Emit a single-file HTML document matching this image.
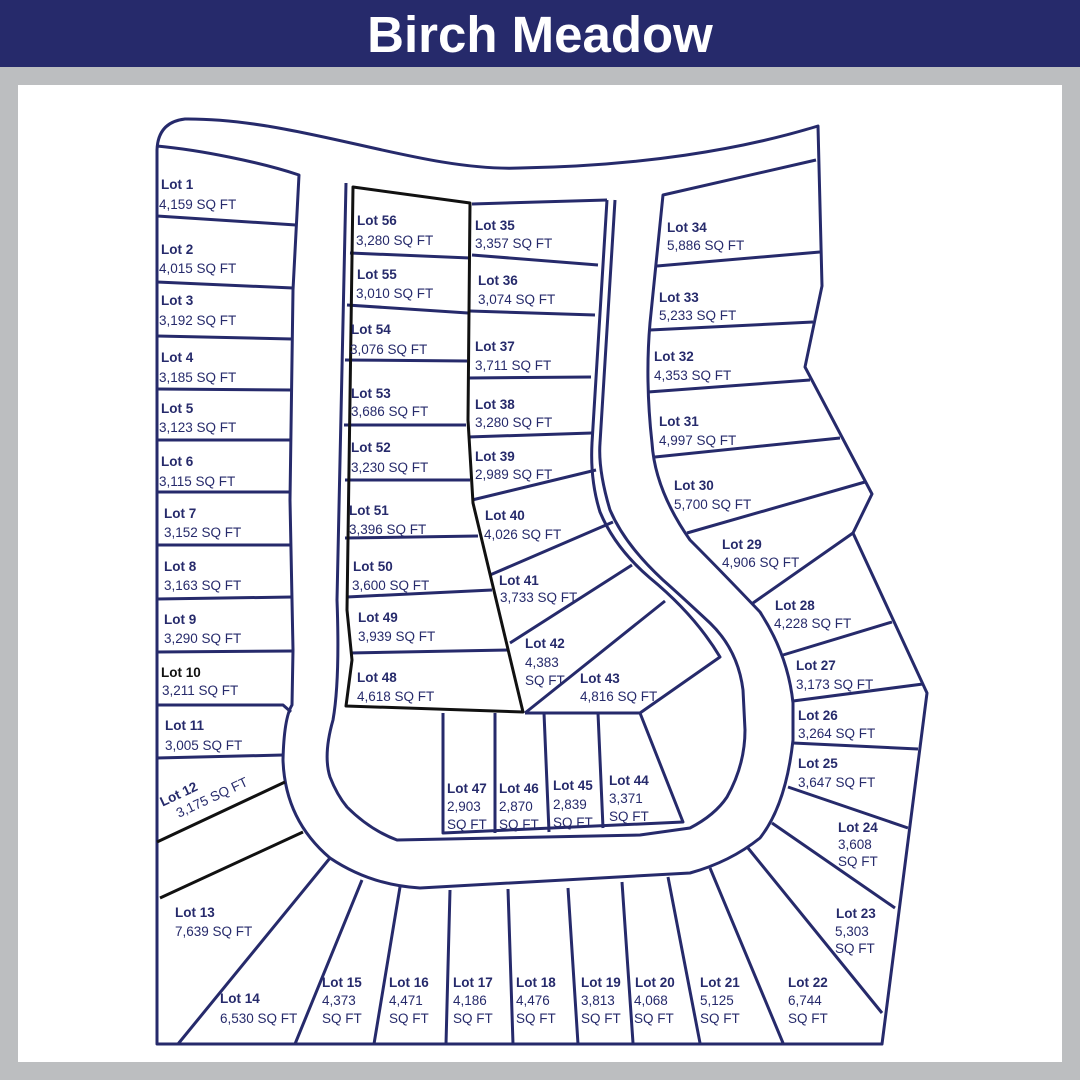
<!DOCTYPE html>
<html><head><meta charset="utf-8"><style>
html,body{margin:0;padding:0;width:1080px;height:1080px;overflow:hidden;background:#bcbec0}
svg{display:block}
text{font-family:"Liberation Sans",sans-serif;font-size:13.5px;fill:#262a6b}
.b{font-weight:bold}
</style></head><body>
<svg width="1080" height="1080" viewBox="0 0 1080 1080" xmlns="http://www.w3.org/2000/svg">
<rect x="0" y="0" width="1080" height="67" fill="#262a6b"/>
<text x="540" y="52" text-anchor="middle" style="font-size:51px;font-weight:bold;fill:#fff">Birch Meadow</text>
<rect x="18" y="85" width="1044" height="977" fill="#fff"/>
<g fill="none" stroke="#262a6b" stroke-width="3" stroke-linejoin="round">
<path d="M157,1044 L157,150 Q158,122 185,119 C300,118 420,172 520,168 C640,166 740,150 818,126 L822,286 L805,367 L872,494 L853,533 L927,693 L882,1044 Z"/>
<path d="M157,146 C200,150 260,162 299,175 L293,290 L290,500 L293,650 L292,705 Q284,718 283,760 Q285,820 330,858 Q370,885 420,888 L690,873 Q730,862 760,838 Q786,805 793,740 L793,703 Q788,655 760,612 Q720,570 690,540 Q655,490 652,443 Q645,380 650,323 L663,195 L816,160"/>
<path d="M157,216 L296,225 M157,282 L293,288 M157,336 L292,339 M157,389 L291,390 M157,440 L290,440 M157,492 L290,492 M157,545 L291,545 M157,599 L292,597 M157,652 L293,651 M157,705 L283,705 L291,712 M157,758 L283,755"/>
<path d="M330,858 L178,1044 M362,880 L295,1044 M400,887 L374,1044 M450,890 L446,1044 M508,889 L513,1044 M568,888 L578,1044 M622,882 L633,1043 M668,877 L700,1043 M710,868 L783,1043 M748,848 L882,1013 M772,823 L895,908 M788,787 L908,828 M793,743 L918,749 M793,701 L923,684 M783,655 L892,622 M753,603 L853,533 M687,533 L865,482 M655,457 L840,438 M648,392 L810,380 M650,330 L813,322 M657,266 L820,252"/>
<path d="M346,183 L337,600 Q340,680 333,720 Q323,755 330,777 Q337,795 347,807 Q370,830 397,840 L640,835 L690,828 Q715,815 727,797 Q745,765 745,730 L743,690 Q738,650 710,623 Q680,595 663,580 Q625,545 610,510 Q598,470 600,443 L615,200"/>
<path d="M607,200 L592,443 Q590,480 600,512 Q615,548 650,578 Q695,615 720,657 L640,713 L525,713"/>
<path d="M472,204 L607,200 M472,255 L598,265 M470,311 L595,315 M468,378 L591,377 M468,437 L592,433 M472,500 L596,470 M490,575 L613,522 M510,643 L632,565 M525,713 L665,601"/>
<path d="M443,713 L443,833 L683,822 L640,713 M495,713 L495,833 M544,713 L549,832 M598,713 L603,828"/>
<path d="M350,253 L470,258 M347,305 L468,313 M345,360 L467,361 M344,425 L466,425 M345,480 L470,480 M345,538 L478,536 M347,597 L492,590 M350,653 L508,650"/>
</g>
<g fill="none" stroke="#111" stroke-width="3" stroke-linejoin="round">
<path d="M353,187 L470,203 L468,420 L473,503 L523,712 L346,706 L352,660 L347,610 Z"/>
<path d="M157,842 L285,782 M160,898 L303,832"/>
</g>
<g>
<text class="b" x="161" y="189">Lot 1</text><text x="159" y="209">4,159 SQ FT</text>
<text class="b" x="161" y="254">Lot 2</text><text x="159" y="273">4,015 SQ FT</text>
<text class="b" x="161" y="305">Lot 3</text><text x="159" y="325">3,192 SQ FT</text>
<text class="b" x="161" y="362">Lot 4</text><text x="159" y="382">3,185 SQ FT</text>
<text class="b" x="161" y="413">Lot 5</text><text x="159" y="432">3,123 SQ FT</text>
<text class="b" x="161" y="466">Lot 6</text><text x="159" y="486">3,115 SQ FT</text>
<text class="b" x="164" y="518">Lot 7</text><text x="164" y="537">3,152 SQ FT</text>
<text class="b" x="164" y="571">Lot 8</text><text x="164" y="590">3,163 SQ FT</text>
<text class="b" x="164" y="624">Lot 9</text><text x="164" y="643">3,290 SQ FT</text>
<text class="b" x="161" y="677" style="fill:#111">Lot 10</text><text x="162" y="695">3,211 SQ FT</text>
<text class="b" x="165" y="730">Lot 11</text><text x="165" y="750">3,005 SQ FT</text>
<g transform="rotate(-25 165 800)"><text class="b" x="160" y="805">Lot 12</text><text x="170" y="822">3,175 SQ FT</text></g>
<text class="b" x="175" y="917">Lot 13</text><text x="175" y="936">7,639 SQ FT</text>
<text class="b" x="220" y="1003">Lot 14</text><text x="220" y="1023">6,530 SQ FT</text>
<text class="b" x="322" y="987">Lot 15</text><text x="322" y="1005">4,373</text><text x="322" y="1023">SQ FT</text>
<text class="b" x="389" y="987">Lot 16</text><text x="389" y="1005">4,471</text><text x="389" y="1023">SQ FT</text>
<text class="b" x="453" y="987">Lot 17</text><text x="453" y="1005">4,186</text><text x="453" y="1023">SQ FT</text>
<text class="b" x="516" y="987">Lot 18</text><text x="516" y="1005">4,476</text><text x="516" y="1023">SQ FT</text>
<text class="b" x="581" y="987">Lot 19</text><text x="581" y="1005">3,813</text><text x="581" y="1023">SQ FT</text>
<text class="b" x="635" y="987">Lot 20</text><text x="634" y="1005">4,068</text><text x="634" y="1023">SQ FT</text>
<text class="b" x="700" y="987">Lot 21</text><text x="700" y="1005">5,125</text><text x="700" y="1023">SQ FT</text>
<text class="b" x="788" y="987">Lot 22</text><text x="788" y="1005">6,744</text><text x="788" y="1023">SQ FT</text>
<text class="b" x="836" y="918">Lot 23</text><text x="835" y="936">5,303</text><text x="835" y="953">SQ FT</text>
<text class="b" x="838" y="832">Lot 24</text><text x="838" y="849">3,608</text><text x="838" y="866">SQ FT</text>
<text class="b" x="798" y="768">Lot 25</text><text x="798" y="787">3,647 SQ FT</text>
<text class="b" x="798" y="720">Lot 26</text><text x="798" y="738">3,264 SQ FT</text>
<text class="b" x="796" y="670">Lot 27</text><text x="796" y="689">3,173 SQ FT</text>
<text class="b" x="775" y="610">Lot 28</text><text x="774" y="628">4,228 SQ FT</text>
<text class="b" x="722" y="549">Lot 29</text><text x="722" y="567">4,906 SQ FT</text>
<text class="b" x="674" y="490">Lot 30</text><text x="674" y="509">5,700 SQ FT</text>
<text class="b" x="659" y="426">Lot 31</text><text x="659" y="445">4,997 SQ FT</text>
<text class="b" x="654" y="361">Lot 32</text><text x="654" y="380">4,353 SQ FT</text>
<text class="b" x="659" y="302">Lot 33</text><text x="659" y="320">5,233 SQ FT</text>
<text class="b" x="667" y="232">Lot 34</text><text x="667" y="250">5,886 SQ FT</text>
<text class="b" x="475" y="230">Lot 35</text><text x="475" y="248">3,357 SQ FT</text>
<text class="b" x="478" y="285">Lot 36</text><text x="478" y="304">3,074 SQ FT</text>
<text class="b" x="475" y="351">Lot 37</text><text x="475" y="370">3,711 SQ FT</text>
<text class="b" x="475" y="409">Lot 38</text><text x="475" y="427">3,280 SQ FT</text>
<text class="b" x="475" y="461">Lot 39</text><text x="475" y="479">2,989 SQ FT</text>
<text class="b" x="485" y="520">Lot 40</text><text x="484" y="539">4,026 SQ FT</text>
<text class="b" x="499" y="585">Lot 41</text><text x="500" y="602">3,733 SQ FT</text>
<text class="b" x="525" y="648">Lot 42</text><text x="525" y="667">4,383</text><text x="525" y="685">SQ FT</text>
<text class="b" x="580" y="683">Lot 43</text><text x="580" y="701">4,816 SQ FT</text>
<text class="b" x="609" y="785">Lot 44</text><text x="609" y="803">3,371</text><text x="609" y="821">SQ FT</text>
<text class="b" x="553" y="790">Lot 45</text><text x="553" y="809">2,839</text><text x="553" y="827">SQ FT</text>
<text class="b" x="499" y="793">Lot 46</text><text x="499" y="811">2,870</text><text x="499" y="829">SQ FT</text>
<text class="b" x="447" y="793">Lot 47</text><text x="447" y="811">2,903</text><text x="447" y="829">SQ FT</text>
<text class="b" x="357" y="682">Lot 48</text><text x="357" y="701">4,618 SQ FT</text>
<text class="b" x="358" y="622">Lot 49</text><text x="358" y="641">3,939 SQ FT</text>
<text class="b" x="353" y="571">Lot 50</text><text x="352" y="590">3,600 SQ FT</text>
<text class="b" x="349" y="515">Lot 51</text><text x="349" y="534">3,396 SQ FT</text>
<text class="b" x="351" y="452">Lot 52</text><text x="351" y="472">3,230 SQ FT</text>
<text class="b" x="351" y="398">Lot 53</text><text x="351" y="416">3,686 SQ FT</text>
<text class="b" x="351" y="334">Lot 54</text><text x="350" y="354">3,076 SQ FT</text>
<text class="b" x="357" y="279">Lot 55</text><text x="356" y="298">3,010 SQ FT</text>
<text class="b" x="357" y="225">Lot 56</text><text x="356" y="245">3,280 SQ FT</text>
</g>
</svg>
</body></html>
